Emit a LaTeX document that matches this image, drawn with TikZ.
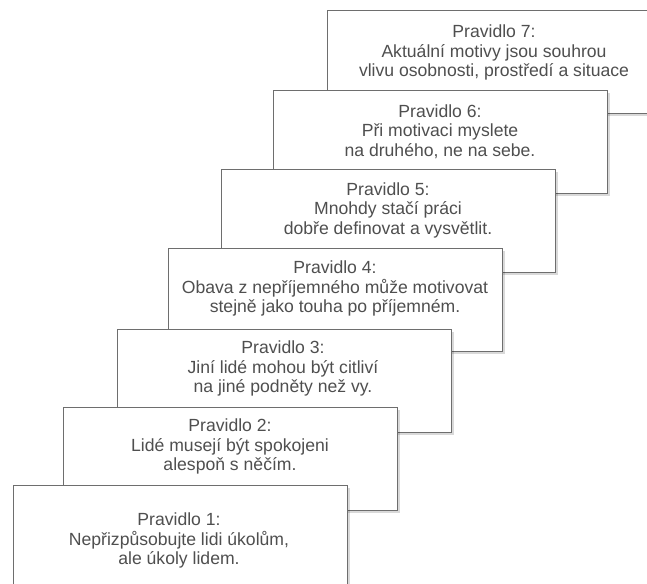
\documentclass[tikz,border=0pt]{standalone}
\usepackage{fontspec}
\setmainfont{Liberation Sans}
\usetikzlibrary{shadows}
\definecolor{linegray}{HTML}{6E6E6E}
\definecolor{textgray}{HTML}{4F4F4F}
\begin{document}
\begin{tikzpicture}[x=1pt,y=-1pt,
  rulebox/.style={draw=linegray, line width=1.1pt, fill=white, minimum width=334pt, minimum height=103pt, anchor=north west, inner sep=0pt, drop shadow={shadow xshift=2pt, shadow yshift=-2pt, opacity=0.15, fill=black}},
  ruletext/.style={anchor=north, align=center, text=textgray, inner sep=0pt, font=\fontsize{17.6}{19.5}\selectfont}]
\useasboundingbox (0,0) rectangle (647,583);
\clip (0,0) rectangle (647,583);
\node[rulebox] (b7) at (327,10) {};
\node[ruletext] (t7) at (494,25) {Pravidlo 7:\\Aktuální motivy jsou souhrou\\vlivu osobnosti, prostředí a situace};
\node[rulebox] (b6) at (273,90) {};
\node[ruletext] (t6) at (440,104.5) {Pravidlo 6:\\Při motivaci myslete\\na druhého, ne na sebe.};
\node[rulebox] (b5) at (221,169) {};
\node[ruletext] (t5) at (388,182.5) {Pravidlo 5:\\Mnohdy stačí práci\\dobře definovat a vysvětlit.};
\node[rulebox] (b4) at (168,248) {};
\node[ruletext] (t4) at (335,261) {Pravidlo 4:\\Obava z nepříjemného může motivovat\\stejně jako touha po příjemném.};
\node[rulebox] (b3) at (117,329) {};
\node[ruletext] (t3) at (283,341) {Pravidlo 3:\\Jiní lidé mohou být citliví\\na jiné podněty než vy.};
\node[rulebox] (b2) at (63,407) {};
\node[ruletext] (t2) at (230,419) {Pravidlo 2:\\Lidé musejí být spokojeni\\alespoň s něčím.};
\node[rulebox, minimum height=130pt] (b1) at (13,485) {};
\node[ruletext] (t1) at (179,513) {Pravidlo 1:\\Nepřizpůsobujte lidi úkolům,\\ale úkoly lidem.};
\end{tikzpicture}
\end{document}
